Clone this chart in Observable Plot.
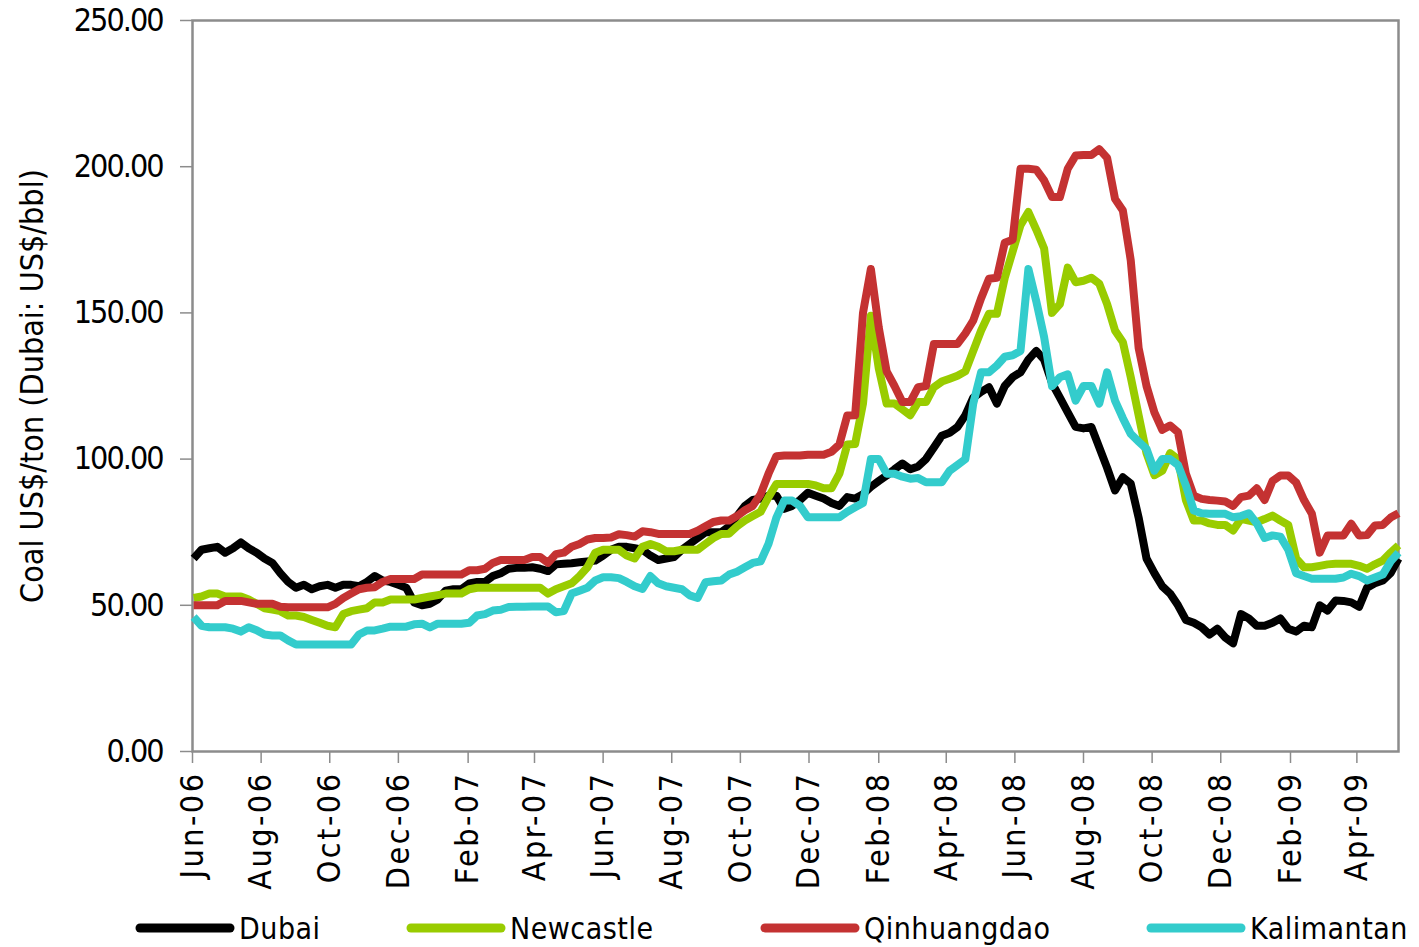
<!DOCTYPE html>
<html>
<head>
<meta charset="utf-8">
<script src="https://cdn.jsdelivr.net/npm/d3@7"></script>
<script src="https://cdn.jsdelivr.net/npm/@observablehq/plot@0.6"></script>
<style>
  html, body { margin: 0; padding: 0; background: #fff; }
  #wrap { position: relative; width: 1419px; height: 947px; overflow: hidden;
          font-family: "Liberation Sans Narrow", "Arial Narrow", "DejaVu Sans Condensed", sans-serif; }
  #wrap svg g[aria-label="x-axis tick label"] text { letter-spacing: 2.5px; }
  #wrap svg g[aria-label="y-axis tick label"] text { letter-spacing: -2px; }
  #wrap svg g[aria-label="y-axis label"] text { letter-spacing: 0px; }
  .leg { position: absolute; top: 908px; height: 40px; display: flex; align-items: center; }
  .leg span { font-size: 30px; letter-spacing: 0.5px; color: #000; margin-left: 4px; white-space: nowrap; }
</style>
</head>
<body>
<div id="wrap"></div>
<script>
// ---- data (weekly observations starting 2 Jun 2006) ----
const seriesNames = ["Dubai", "Newcastle", "Qinhuangdao", "Kalimantan"];
const seriesColors = ["#000000", "#99cc00", "#c43232", "#33cccc"];
const firstWeek = "2006-06-02";
const weekStepDays = 7;

const dubai = [
  66, 69, 69.5, 70, 68, 69.5, 71.5, 69.5, 68, 66,
  64.5, 61, 58, 56, 57, 55.5, 56.5, 57, 56, 57,
  57, 56.5, 58, 60, 58.5, 58, 57, 56, 51, 50,
  50.5, 52, 55, 55.5, 55.5, 57.5, 58, 58, 60, 61,
  62.5, 62.8, 62.8, 63, 62.5, 61.7, 64, 64.2, 64.4, 64.7,
  65, 65.3, 67, 69, 70, 70, 69.5, 69, 67, 65.5,
  66, 66.5, 69, 71, 73, 75, 75, 75, 77, 80.5,
  84, 86, 86.5, 87.5, 87.5, 83, 84, 86, 88.5, 87.5,
  86.5, 85, 84, 87, 86.5, 88, 90.5, 92.5, 94.4, 96.5,
  98.5, 96.5, 97.5, 100, 104, 108, 109, 111, 115, 121,
  123, 124.6, 119, 125, 128, 129.7, 134, 137, 134, 126,
  121, 116, 111, 110.5, 111, 104, 97, 89.3, 93.8, 91.6,
  80, 66, 61, 56.5, 54, 50, 45, 44, 42.5, 40,
  42, 39, 37, 47, 45.5, 43, 43, 44, 45.5, 42,
  41, 43, 42.5, 50, 48.2, 51.6, 51.5, 51, 49.5, 56,
  57.5, 58.5, 61, 66
];
const newcastle = [
  52.5, 53, 54, 54, 53, 53, 53, 52, 50.5, 49,
  48.5, 48, 46.5, 46.5, 46, 45, 44, 43, 42.5, 47,
  48, 48.5, 49, 51, 51, 52, 52, 52, 52, 52.5,
  53, 53.5, 54, 54, 54, 55.5, 56, 56, 56, 56,
  56, 56, 56, 56, 56, 54, 55.5, 56.5, 57.5, 60,
  63, 68, 69, 69, 69, 67, 66, 70, 71, 70,
  68.5, 68.5, 69, 69, 69, 71, 73, 74.4, 74.5, 77,
  79, 80.5, 82, 87, 91.5, 91.5, 91.5, 91.5, 91.5, 91,
  90, 90, 95, 105, 105.2, 119, 149, 131, 119, 119,
  117, 115, 119.5, 119.5, 124.6, 126.5, 127.5, 128.5, 130, 137,
  144, 149.7, 149.7, 162, 171, 180, 184.5, 178.5, 172, 150,
  153, 165.5, 160.5, 161, 162, 160, 153, 144, 140, 128,
  115, 102, 94.5, 96, 102, 100, 86, 79, 79, 78,
  77.5, 77.5, 75.6, 79.6, 79, 78.4, 79.5, 80.7, 79, 77.5,
  66, 63, 63, 63.5, 64, 64.2, 64.2, 64.2, 63.5, 62.5,
  64, 65.3, 68, 70.5
];
const qinhuangdao = [
  50, 50, 50, 50, 51.5, 51.5, 51.5, 51, 50.5, 50.5,
  50.5, 49.5, 49.3, 49.3, 49.3, 49.3, 49.3, 49.3, 50.5, 52.5,
  54, 55.5, 56, 56.2, 58, 59, 59, 59, 59, 60.5,
  60.5, 60.5, 60.5, 60.5, 60.5, 62, 62, 62.5, 64.5, 65.5,
  65.5, 65.5, 65.5, 66.5, 66.5, 64.5, 67.5, 68, 70, 71,
  72.5, 73, 73, 73.2, 74.3, 74, 73.5, 75.3, 75, 74.4,
  74.4, 74.4, 74.4, 74.4, 75.5, 77, 78.5, 79, 79, 80.5,
  82.5, 84, 88, 95, 101, 101.2, 101.2, 101.2, 101.5, 101.5,
  101.5, 102.5, 105, 114.9, 115, 150, 165, 145, 130, 125,
  119.5, 119.5, 124.6, 125, 139.4, 139.4, 139.4, 139.4, 143, 147.4,
  155, 161.7, 162, 174, 175, 199.3, 199.3, 199, 195.3, 189.6,
  189.6, 199.3, 203.8, 204, 204, 206, 203, 189, 185, 168,
  138, 125, 116, 110, 111.5, 109.2, 95, 87.5, 86.4, 86,
  85.8, 85.5, 84, 87, 87.5, 90, 86, 92.5, 94.4, 94.4,
  92, 86, 81.3, 68, 73.9, 73.9, 73.9, 77.9, 73.9, 74,
  77.3, 77.5, 80, 81.5
];
const kalimantan = [
  46, 43, 42.5, 42.5, 42.5, 42, 41, 42.5, 41.5, 40,
  39.7, 39.7, 38, 36.6, 36.6, 36.6, 36.6, 36.6, 36.6, 36.6,
  36.6, 40, 41.4, 41.4, 42, 42.7, 42.7, 42.7, 43.5, 43.7,
  42.4, 43.7, 43.7, 43.7, 43.7, 44, 46.5, 47, 48.2, 48.5,
  49.4, 49.5, 49.5, 49.6, 49.6, 49.6, 47.6, 48, 54, 55,
  56, 58.5, 59.6, 59.6, 59.3, 58, 56.5, 55.6, 60, 57.5,
  56.5, 56, 55.5, 53.4, 52.5, 57.9, 58.2, 58.5, 60.5, 61.5,
  63, 64.5, 65, 71, 80, 85.8, 85.8, 84, 80.1, 80.1,
  80.1, 80.1, 80.1, 82, 83.5, 85, 100, 100, 95, 95,
  94, 93.3, 93.5, 92.1, 92.1, 92.1, 96, 98, 100, 119,
  129.7, 129.7, 132, 135, 135.5, 137, 165, 154, 141.7, 125,
  128, 129, 120, 125, 125, 119, 129.7, 120, 114, 108.6,
  106, 103.5, 96, 100, 100, 98, 91, 82.4, 81.5, 81.3,
  81.3, 81.3, 80.1, 80.5, 81.5, 78, 73, 73.9, 73.5, 69,
  61, 60, 59.1, 59.1, 59.1, 59.1, 59.5, 60.8, 60, 58.5,
  59.5, 60.5, 65, 68
];
const yTicks = [0, 50, 100, 150, 200, 250];
const xTickLabels = ["Jun-06","Aug-06","Oct-06","Dec-06","Feb-07","Apr-07","Jun-07","Aug-07",
  "Oct-07","Dec-07","Feb-08","Apr-08","Jun-08","Aug-08","Oct-08","Dec-08","Feb-09","Apr-09"];
const xDomain = ["2006-06-01", "2009-05-08"];
const yLabel = "Coal US$/ton (Dubai: US$/bbl)";

// ---- build table ----
const start = new Date(firstWeek + "T00:00:00Z");
const valuesBySeries = [dubai, newcastle, qinhuangdao, kalimantan];
const rows = [];
valuesBySeries.forEach((vals, s) => {
  vals.forEach((v, i) => rows.push({series: seriesNames[s], date: d3.utcDay.offset(start, i * weekStepDays), value: v}));
});
const parseTick = d3.utcParse("%b-%y");
const xTicks = xTickLabels.map(parseTick);
const fmt = d3.utcFormat("%b-%y");

const chart = Plot.plot({
  width: 1419,
  height: 900,
  marginLeft: 192,
  marginRight: 21,
  marginTop: 20,
  marginBottom: 149,
  style: {fontFamily: '"Liberation Sans Narrow", "Arial Narrow", "DejaVu Sans Condensed", sans-serif', fontSize: "32px", color: "#000", background: "#fff"},
  x: {type: "utc", domain: xDomain.map(d => new Date(d + "T00:00:00Z"))},
  y: {domain: [0, 250]},
  color: {domain: seriesNames, range: seriesColors},
  marks: [
    Plot.frame({stroke: "#8c8c8c", strokeWidth: 2.5}),
    Plot.axisY({ticks: yTicks, tickFormat: d => d.toFixed(2), tickSize: 12, tickPadding: 18,
      stroke: "#8c8c8c", strokeWidth: 1.5, fontSize: 32,
      label: yLabel, labelAnchor: "center", labelArrow: "none", labelOffset: 172}),
    Plot.axisX({ticks: xTicks, tickFormat: fmt, tickRotate: -90, tickSize: 12, tickPadding: 8,
      stroke: "#8c8c8c", strokeWidth: 1.5, fontSize: 32, label: null}),
    Plot.lineY(rows, {x: "date", y: "value", z: "series", stroke: "series", strokeWidth: 8,
      strokeLinejoin: "round", strokeLinecap: "butt"})
  ]
});
const wrap = document.getElementById("wrap");
wrap.appendChild(chart);

// ---- legend below the chart ----
const legendPos = [[135, 238], [406, 512], [760, 866], [1146, 1250]];
seriesNames.forEach((name, i) => {
  const item = document.createElement("div");
  item.className = "leg";
  item.style.left = legendPos[i][0] + "px";
  item.innerHTML = `<svg width="100" height="12"><line x1="5" y1="6" x2="95" y2="6" stroke="${seriesColors[i]}" stroke-width="9" stroke-linecap="round"/></svg><span>${name}</span>`;
  wrap.appendChild(item);
});
</script>
</body>
</html>
